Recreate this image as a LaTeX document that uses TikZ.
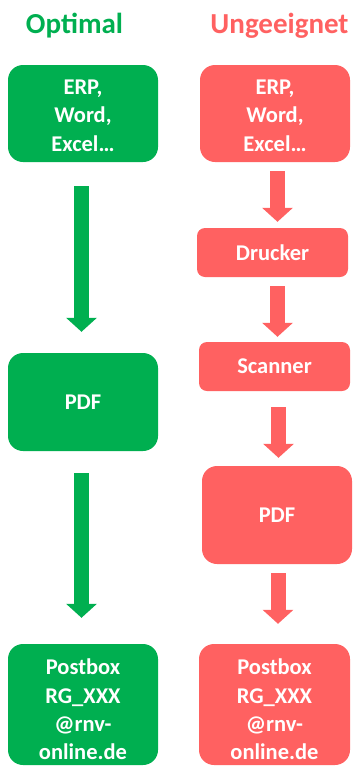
\documentclass[tikz,border=0pt]{standalone}
\usepackage{fontspec}
\setmainfont{Carlito}
\usetikzlibrary{arrows.meta}
\definecolor{okgreen}{HTML}{00AF50}
\definecolor{badred}{HTML}{FF6161}
\tikzset{
  box/.style={rounded corners=15pt, text=white, font=\bfseries\fontsize{22.5}{28.3}\selectfont,
    align=center, inner sep=0pt, minimum width=150pt, minimum height=97pt},
  gbox/.style={box, fill=okgreen},
  rbox/.style={box, fill=badred},
  smallbox/.style={rounded corners=8pt, minimum height=49pt, minimum width=151pt},
  flowarrow/.style={line width=15pt, -{Triangle[width=30pt,length=14pt]}},
  garrow/.style={flowarrow, draw=okgreen, fill=okgreen},
  rarrow/.style={flowarrow, draw=badred, fill=badred},
  title/.style={font=\bfseries\fontsize{29}{31}\selectfont, anchor=base}
}
\begin{document}
\begin{tikzpicture}[x=1pt,y=-1pt]
\useasboundingbox (0,0) rectangle (353,766);
\node[title, text=okgreen] (t1) at (74.5,33) {Optimal};
\node[title, text=badred] (t2) at (279.5,33) {Ungeeignet};

\node[gbox] (gerp) at (83,113.5) {\rule{0pt}{19pt}ERP,\\Word,\\Excel…};
\node[gbox, minimum height=98pt] (gpdf) at (83,402) {PDF};
\node[gbox, minimum height=121pt] (gpost) at (83,704.5) {\rule{0pt}{26pt}Postbox\\RG\_XXX\\@rnv-\\online.de};

\node[rbox] (rerp) at (275,113.5) {\rule{0pt}{19pt}ERP,\\Word,\\Excel…};
\node[rbox, smallbox] (rdru) at (272.5,252.5) {Drucker};
\node[rbox, smallbox] (rscan) at (274.5,366.5) {Scanner};
\node[rbox, minimum height=98pt] (rpdf) at (277,515) {PDF};
\node[rbox, minimum width=151pt, minimum height=121pt] (rpost) at (274.5,704.5) {\rule{0pt}{26pt}Postbox\\RG\_XXX\\@rnv-\\online.de};

\draw[garrow, shorten <=24pt, shorten >=21pt] ([xshift=-1.5pt]gerp.south) -- ([xshift=-1.5pt]gpdf.north);
\draw[garrow, shorten <=22pt, shorten >=26pt] ([xshift=-1.5pt]gpdf.south) -- ([xshift=-1.5pt]gpost.north);

\draw[rarrow, shorten <=9pt, shorten >=6pt] ([xshift=2.5pt]rerp.south) -- ([xshift=2.5pt]rerp.south |- rdru.north);
\draw[rarrow, shorten <=9pt, shorten >=5pt] ([xshift=5pt]rdru.south) -- ([xshift=5pt]rdru.south |- rscan.north);
\draw[rarrow, shorten <=16pt, shorten >=8pt] ([xshift=4pt]rscan.south) -- ([xshift=4pt]rscan.south |- rpdf.north);
\draw[rarrow, shorten <=9pt, shorten >=20pt] ([xshift=1pt]rpdf.south) -- ([xshift=1pt]rpdf.south |- rpost.north);
\end{tikzpicture}
\end{document}
